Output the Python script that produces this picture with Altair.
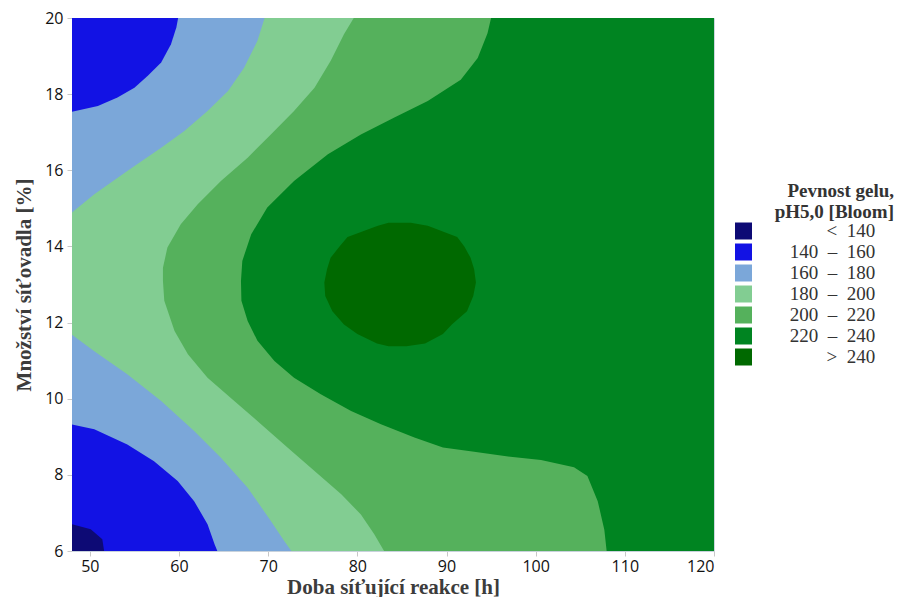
import altair as alt
import pandas as pd

# ---- axes ----
x_domain = [48, 120]
y_domain = [6, 20]
x_ticks = [50, 60, 70, 80, 90, 100, 110, 120]
y_ticks = [6, 8, 10, 12, 14, 16, 18, 20]

# ---- bands (legend) ----
bands = ["<\u2002140", "140\u2002\u2013\u2002160", "160\u2002\u2013\u2002180",
         "180\u2002\u2013\u2002200", "200\u2002\u2013\u2002220",
         "220\u2002\u2013\u2002240", ">\u2002240"]
colors = ["#0d0a75", "#1212e4", "#7ba7d9", "#82cd92", "#55b15c", "#008421", "#006900"]

# ---- contour boundaries (x = reaction time at given y) ----
full_y = [6.0, 20.0]
full_x = [120.0, 120.0]

b220_y = [6.0, 6.56, 7.31, 7.97, 8.2, 8.39, 8.48, 8.61, 8.72, 8.98, 9.33, 9.68, 10.12,
          10.55, 10.99, 11.52, 12.04, 12.57, 13.09, 13.62, 14.32, 15.02, 15.72, 16.42,
          16.94, 17.38, 17.82, 18.38, 18.95, 19.6, 20.0]
b220_x = [107.96, 107.7, 106.96, 105.8, 104.3, 100.6, 96.9, 93.1, 89.6, 86.4, 82.65, 79.3,
          75.9, 72.9, 70.7, 68.8, 67.7, 67.0, 66.95, 67.1, 68.1, 69.9, 72.9, 76.7, 80.4,
          84.1, 87.9, 91.6, 93.5, 94.6, 95.0]

b200_y = [6.0, 6.44, 6.96, 7.49, 8.1, 8.71, 9.33, 9.94, 10.55, 11.17, 11.78, 12.57, 13.09,
          13.44, 13.97, 14.58, 15.11, 15.72, 16.33, 16.94, 17.56, 18.17, 18.87, 19.57, 20.0]
b200_x = [83.0, 81.9, 80.4, 78.2, 75.2, 72.2, 69.2, 66.2, 63.2, 61.0, 59.5, 58.35, 58.2,
          58.2, 58.7, 60.2, 62.1, 64.7, 67.7, 70.3, 72.9, 75.2, 77.0, 78.5, 79.6]

b180_lo_y = [6.0, 6.26, 6.79, 7.66, 8.45, 9.15, 9.94, 10.64, 11.25, 11.68]
b180_lo_x = [72.6, 71.8, 70.3, 67.7, 64.7, 61.7, 58.0, 54.2, 50.5, 48.0]
b180_hi_y = [14.89, 15.37, 15.98, 16.59, 17.03, 17.56, 18.08, 18.69, 19.40, 20.0]
b180_hi_x = [48.0, 50.5, 54.2, 58.0, 60.6, 63.2, 65.5, 67.3, 68.8, 69.6]

b160_lo_y = [6.0, 6.17, 6.70, 7.31, 7.84, 8.36, 8.80, 9.20, 9.32]
b160_lo_x = [64.3, 64.0, 63.2, 61.7, 59.85, 57.2, 54.2, 50.5, 48.0]
b160_hi_y = [17.54, 17.69, 17.91, 18.17, 18.48, 18.83, 19.31, 19.75, 20.0]
b160_hi_x = [48.0, 50.9, 53.1, 55.0, 56.5, 58.0, 59.1, 59.7, 59.9]

b140_y = [6.0, 6.31, 6.57, 6.70]
b140_x = [51.6, 51.4, 50.1, 48.0]

# >240 island: left and right edges at each y
b240_y = [11.38, 11.45, 11.7, 11.95, 12.3, 12.7, 13.05, 13.4, 13.7, 14.0, 14.25, 14.54, 14.62]
b240_xl = [83.5, 82.2, 80.0, 78.5, 77.2, 76.4, 76.3, 76.6, 77.0, 78.0, 78.9, 82.3, 83.5]
b240_xr = [85.5, 87.6, 89.6, 90.6, 92.3, 93.0, 93.3, 93.1, 92.7, 92.0, 91.2, 87.9, 86.0]

x_enc = alt.X("x:Q", scale=alt.Scale(domain=x_domain, nice=False, zero=False),
              axis=alt.Axis(values=x_ticks, title="Doba síťující reakce [h]", grid=False))
y_enc = alt.Y("y:Q", scale=alt.Scale(domain=y_domain, nice=False, zero=False),
              axis=alt.Axis(values=y_ticks, title="Množství síťovadla [%]", grid=False))
color_enc = alt.Color(
    "band:N",
    scale=alt.Scale(domain=bands, range=colors),
    legend=alt.Legend(
        title=["Pevnost gelu,", "pH5,0 [Bloom]"],
        orient="none", legendX=662, legendY=164, padding=0,
        titleFont="Liberation Serif", titleFontSize=19, titleFontWeight="bold",
        titleColor="#333333", titleAlign="right", titleAnchor="end",
        titleLineHeight=21, titlePadding=-0.5, titleLimit=300,
        labelFont="Liberation Serif", labelFontSize=19, labelColor="#333333",
        labelAlign="right", labelOffset=141, labelLimit=300,
        labelExpr="datum.label + '\u00a0\u2800'",
        symbolType="square", symbolSize=289, symbolStrokeWidth=0, symbolOpacity=1,
        rowPadding=1.0,
    ),
)


def piece(band, ys, xs, x0s):
    df = pd.DataFrame({"y": ys, "x": xs, "x0": x0s, "band": band})
    return alt.Chart(df).mark_area(orient="horizontal", interpolate="linear",
                                   opacity=1, strokeWidth=0).encode(
        y=y_enc, x=x_enc, x2="x0:Q", color=color_enc)


xmin = x_domain[0]
layers = [
    piece(bands[5], full_y, full_x, [xmin] * len(full_y)),
    piece(bands[4], b220_y, b220_x, [xmin] * len(b220_y)),
    piece(bands[3], b200_y, b200_x, [xmin] * len(b200_y)),
    piece(bands[2], b180_lo_y, b180_lo_x, [xmin] * len(b180_lo_y)),
    piece(bands[2], b180_hi_y, b180_hi_x, [xmin] * len(b180_hi_y)),
    piece(bands[1], b160_lo_y, b160_lo_x, [xmin] * len(b160_lo_y)),
    piece(bands[1], b160_hi_y, b160_hi_x, [xmin] * len(b160_hi_y)),
    piece(bands[0], b140_y, b140_x, [xmin] * len(b140_y)),
    piece(bands[6], b240_y, b240_xr, b240_xl),
]

chart = alt.layer(*layers).properties(
    width=642, height=533,
    padding={"left": 5, "top": 2, "right": 0, "bottom": 0},
).configure_view(
    stroke="#cdd6e0", strokeWidth=1
).configure_axis(
    labelFont="Open Sans", labelFontSize=16, labelColor="#111111",
    tickColor="#c8c8c8", tickSize=5, domainColor="#c8d2dc",
    titleFont="Liberation Serif", titleFontSize=21, titleFontWeight="bold",
    titleColor="#3c3c3c",
).configure_axisX(labelPadding=2, titlePadding=2).configure_axisY(labelPadding=4, titlePadding=10)

chart.save("out.html", embed_options={"renderer": "svg", "actions": False})
